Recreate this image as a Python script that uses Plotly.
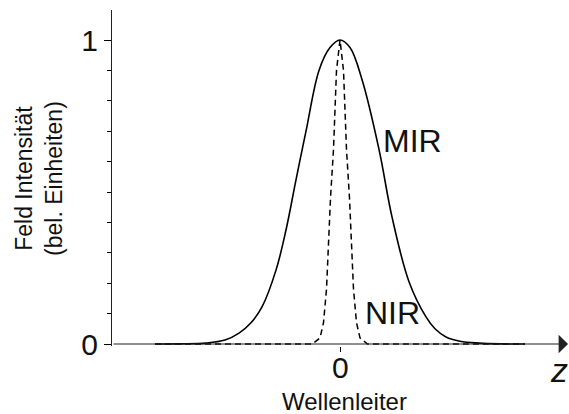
import plotly.graph_objects as go

# MIR mode profile (solid)
mir_x = [-3.7, -3.2, -2.68, -2.3, -2.02, -1.78, -1.56, -1.28, -1.08, -0.88, -0.68, -0.42, -0.2, 0.0,
         0.2, 0.44, 0.78, 1.04, 1.38, 1.72, 1.9, 2.12, 2.4, 2.78, 3.2, 3.7]
mir_y = [0.0, 0.0005, 0.003, 0.013, 0.036, 0.07, 0.122, 0.243, 0.375, 0.54, 0.70, 0.90, 0.975, 1.0,
         0.975, 0.87, 0.64, 0.418, 0.205, 0.089, 0.05, 0.023, 0.009, 0.003, 0.0005, 0.0]

# NIR mode profile (dashed)
nir_x = [-3.7, -0.55, -0.40, -0.33, -0.27, -0.23, -0.19, -0.13, -0.10, -0.07, 0.0,
         0.07, 0.10, 0.13, 0.19, 0.23, 0.27, 0.33, 0.40, 0.55, 3.7]
nir_y = [0.0, 0.0, 0.02, 0.07, 0.18, 0.33, 0.48, 0.64, 0.77, 0.90, 1.0,
         0.90, 0.77, 0.64, 0.48, 0.33, 0.18, 0.07, 0.02, 0.0, 0.0]

y_major = [0, 1]
y_major_labels = ["0", "1"]
y_minor = [0, 0.1, 0.2, 0.3, 0.4, 0.5, 0.6, 0.7, 0.8, 0.9, 1.0]
x_ticks = [0]
x_ticklabels = ["0"]

FONT = "Liberation Sans, Arial, sans-serif"
TXT = "#111"
YR = [-0.00658, 1.0987]

fig = go.Figure()
fig.add_trace(go.Scatter(x=nir_x, y=nir_y, mode="lines", yaxis="y2",
                         line=dict(color="black", width=1.5, dash="6px,4px"),
                         showlegend=False, hoverinfo="skip"))
fig.add_trace(go.Scatter(x=mir_x, y=mir_y, mode="lines",
                         line=dict(color="black", width=1.6, shape="spline", smoothing=1.0),
                         showlegend=False, hoverinfo="skip"))

fig.update_layout(
    width=569, height=414,
    margin=dict(l=112, r=0, t=10, b=68),
    paper_bgcolor="white", plot_bgcolor="white",
    font=dict(family=FONT, color=TXT),
    xaxis=dict(range=[-4.56, 4.58], showgrid=False, zeroline=False, showline=False,
               tickvals=x_ticks, ticks="outside", ticklen=5,
               tickwidth=1.3, tickcolor="black", showticklabels=False),
    yaxis=dict(range=YR, showgrid=False, zeroline=False, showline=True,
               linecolor="#222", linewidth=1.2,
               tickvals=y_minor, ticks="outside", ticklen=4,
               tickwidth=1.3, tickcolor="black", showticklabels=False),
    yaxis2=dict(range=YR, matches="y", overlaying="y", side="left", anchor="x",
                showgrid=False, zeroline=False, showline=False,
                tickvals=y_major, ticktext=y_major_labels, ticks="outside", ticklen=7,
                tickwidth=1.3, tickcolor="black", tickfont=dict(size=30, family=FONT, color=TXT)),
)

# x axis with arrow
fig.add_annotation(x=4.56, y=0, ax=-4.56, ay=0, xref="x", yref="y", axref="x", ayref="y",
                   showarrow=True, arrowhead=1, arrowsize=2.6, arrowwidth=1.2,
                   arrowcolor="#222", text="", standoff=0)

# x tick label
for xv, xl in zip(x_ticks, x_ticklabels):
    fig.add_annotation(x=xv, y=-0.064, xref="x", yref="paper", text=xl, showarrow=False,
                       xanchor="center", yanchor="middle", font=dict(size=30, family=FONT, color=TXT))

fig.add_annotation(x=0.82, y=0.668, xref="x", yref="y", text="MIR", showarrow=False,
                   xanchor="left", yanchor="middle", font=dict(size=32, family=FONT, color=TXT))
fig.add_annotation(x=0.46, y=0.102, xref="x", yref="y", text="NIR", showarrow=False,
                   xanchor="left", yanchor="middle", font=dict(size=32, family=FONT, color=TXT))
fig.add_annotation(x=4.38, y=-0.0714, xref="x", yref="paper", text="<i>z</i>", showarrow=False,
                   xanchor="center", yanchor="middle", font=dict(size=34, family=FONT, color=TXT))
fig.add_annotation(x=0.08, y=-0.1637, xref="x", yref="paper", text="Wellenleiter", showarrow=False,
                   xanchor="center", yanchor="middle", font=dict(size=24, family=FONT, color=TXT))
fig.add_annotation(x=-0.16, y=0.546, xref="paper", yref="y",
                   text="Feld Intensität<br>(bel. Einheiten)", showarrow=False, textangle=-90,
                   xanchor="center", yanchor="middle", font=dict(size=23, family=FONT, color=TXT))

fig.write_html("out.html")
